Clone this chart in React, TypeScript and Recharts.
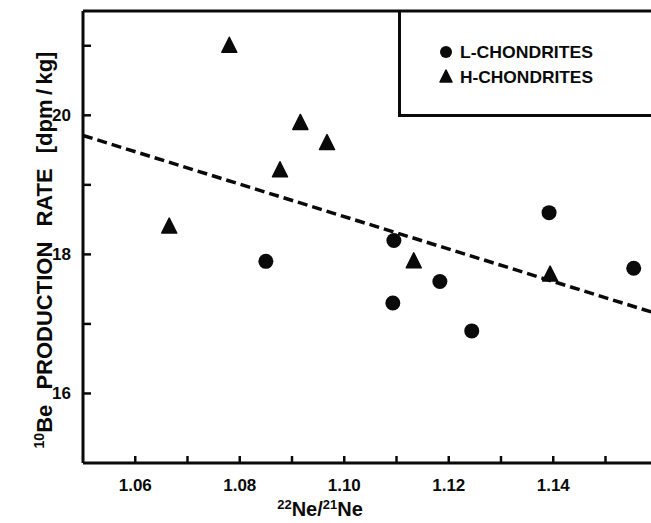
import React from "react";
import {
  ScatterChart,
  Scatter,
  XAxis,
  YAxis,
  ReferenceLine,
  Legend,
} from "recharts";

// L-chondrites (circles)
const lNeRatio = [1.085, 1.1095, 1.1183, 1.1093, 1.1244, 1.1392, 1.1554, 1.1602];
const lBeRate = [17.9, 18.2, 17.61, 17.3, 16.9, 18.6, 17.8, 18.0];

// H-chondrites (triangles)
const hNeRatio = [1.078, 1.0916, 1.0967, 1.0877, 1.0665, 1.1133, 1.1394];
const hBeRate = [21.0, 19.89, 19.6, 19.21, 18.4, 17.9, 17.71];

// dashed fit line, read at both ends
const fitNeRatio = [1.05, 1.17];
const fitBeRate = [19.71, 16.91];

const seriesNames = ["L-CHONDRITES", "H-CHONDRITES"];
const xTicks = [1.06, 1.07, 1.08, 1.09, 1.1, 1.11, 1.12, 1.13, 1.14, 1.15, 1.16];
const xTickLabels = ["1.06", "1.08", "1.10", "1.12", "1.14"];
const yTicks = [16, 17, 18, 19, 20, 21];
const yTickLabels = ["16", "18", "20"];

const lData = lNeRatio.map((x, i) => ({ x, y: lBeRate[i] }));
const hData = hNeRatio.map((x, i) => ({ x, y: hBeRate[i] }));

const FONT = "'Liberation Sans', Arial, sans-serif";
const INK = "#0a0a0a";
const PLOT_LEFT = 83;
const PLOT_BOTTOM = 463;

const Circle = ({ cx, cy }: any) => <circle cx={cx} cy={cy} r={7.5} fill={INK} />;

const Triangle = ({ cx, cy }: any) => (
  <path
    d={`M${cx},${cy - 8.5} L${cx + 7.5},${cy + 6.5} L${cx - 7.5},${cy + 6.5} Z`}
    fill={INK}
    stroke={INK}
    strokeWidth={1.5}
    strokeLinejoin="round"
  />
);

const YTick = ({ y, payload }: any) => {
  const label = String(payload.value);
  return (
    <g>
      <line x1={PLOT_LEFT} x2={PLOT_LEFT + 8} y1={y} y2={y} stroke={INK} strokeWidth={2.5} />
      {yTickLabels.includes(label) && (
        <text x={71} y={y + 6} textAnchor="end" fontFamily={FONT} fontWeight="bold" fontSize={17} fill={INK}>
          {label}
        </text>
      )}
    </g>
  );
};

const XTick = ({ x, payload }: any) => {
  const label = Number(payload.value).toFixed(2);
  return (
    <g>
      <line x1={x} x2={x} y1={PLOT_BOTTOM} y2={PLOT_BOTTOM - 7} stroke={INK} strokeWidth={2.5} />
      {xTickLabels.includes(label) && (
        <text x={x} y={491} textAnchor="middle" fontFamily={FONT} fontWeight="bold" fontSize={17} fill={INK}>
          {label}
        </text>
      )}
    </g>
  );
};

const XTitle = () => (
  <text x={320} y={516} textAnchor="middle" fontFamily={FONT} fontWeight="bold" fontSize={20} fill={INK}>
    <tspan fontSize={13} dy={-7}>22</tspan>
    <tspan dy={7}>Ne/</tspan>
    <tspan fontSize={13} dy={-7}>21</tspan>
    <tspan dy={7}>Ne</tspan>
  </text>
);

const YTitle = () => (
  <text
    x={250}
    y={52}
    transform="rotate(-90 250 250)"
    textAnchor="middle"
    fontFamily={FONT}
    fontWeight="bold"
    fontSize={22}
    fill={INK}
    style={{ wordSpacing: 9 }}
  >
    <tspan fontSize={14} dy={-8}>10</tspan>
    <tspan dy={8}>{"Be PRODUCTION RATE [dpm\u2009/\u2009kg]"}</tspan>
  </text>
);

const LegendBox = ({ payload }: any) => {
  const entries = seriesNames
    .map((name) => (payload || []).find((p: any) => p.value === name))
    .filter(Boolean);
  return (
    <svg width={330} height={106} style={{ display: "block" }}>
      <path d="M1.5,0 V104.5 H330" fill="none" stroke={INK} strokeWidth={3} />
      {entries.map((entry: any, i: number) => {
        const cy = 41 + i * 25;
        return (
          <g key={entry.value}>
            {entry.type === "triangle" ? (
              <path d={`M48,${cy - 7} L54,${cy + 5} L42,${cy + 5} Z`} fill={INK} stroke={INK} strokeWidth={1.5} strokeLinejoin="round" />
            ) : (
              <circle cx={48} cy={cy} r={6} fill={INK} />
            )}
            <text
              x={62}
              y={cy + 6}
              fontFamily={FONT}
              fontWeight="bold"
              fontSize={17}
              fill={INK}
              textLength={133}
              lengthAdjust="spacingAndGlyphs"
            >
              {entry.value}
            </text>
          </g>
        );
      })}
    </svg>
  );
};

export default function App() {
  return (
    <div style={{ width: 651, height: 523, overflow: "hidden", background: "#fff" }}>
      <style>{"body{margin:0;overflow:hidden}"}</style>
      <ScatterChart width={720} height={523} margin={{ top: 11, right: 10, left: 0, bottom: 0 }}>
        <XAxis
          type="number"
          dataKey="x"
          domain={[1.05, 1.17]}
          ticks={xTicks}
          allowDataOverflow
          height={60}
          axisLine={{ stroke: INK, strokeWidth: 3 }}
          tickLine={false}
          tick={<XTick />}
          interval={0}
          label={{ content: () => <XTitle /> }}
        />
        <YAxis
          type="number"
          dataKey="y"
          domain={[15, 21.5]}
          ticks={yTicks}
          allowDataOverflow
          width={83}
          axisLine={{ stroke: INK, strokeWidth: 3 }}
          tickLine={false}
          tick={<YTick />}
          interval={0}
          label={{ content: () => <YTitle /> }}
        />
        <ReferenceLine y={21.5} stroke={INK} strokeWidth={3} />
        <ReferenceLine
          segment={[
            { x: fitNeRatio[0], y: fitBeRate[0] },
            { x: fitNeRatio[1], y: fitBeRate[1] },
          ]}
          stroke={INK}
          strokeWidth={3.5}
          strokeDasharray="10 5"
          ifOverflow="visible"
        />
        <Scatter name="L-CHONDRITES" data={lData} legendType="circle" shape={<Circle />} isAnimationActive={false} />
        <Scatter name="H-CHONDRITES" data={hData} legendType="triangle" shape={<Triangle />} isAnimationActive={false} />
        <Legend
          layout="horizontal"
          verticalAlign="middle"
          align="center"
          wrapperStyle={{ left: 398, top: 11, width: 330, height: 106, margin: 0 }}
          content={<LegendBox />}
        />
      </ScatterChart>
    </div>
  );
}
